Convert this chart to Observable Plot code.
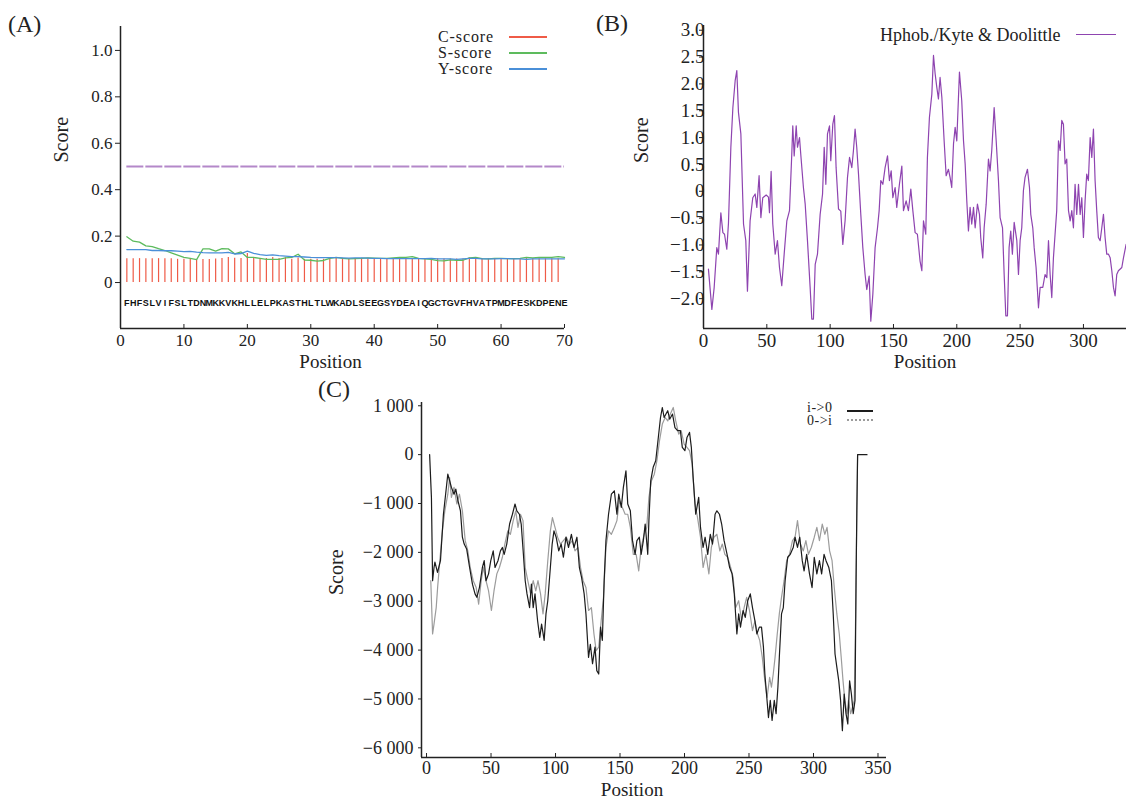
<!DOCTYPE html>
<html>
<head>
<meta charset="utf-8">
<script src="https://cdn.jsdelivr.net/npm/d3@7"></script>
<script src="https://cdn.jsdelivr.net/npm/@observablehq/plot@0.6"></script>
<style>
  body { margin: 0; background: #fff; }
  #fig { position: relative; width: 1126px; height: 803px; overflow: hidden; background: #fff;
         font-family: "Liberation Serif", "Times New Roman", serif; color: #222; }
  .panel { position: absolute; }
  #fig svg.panel { font-family: "Liberation Serif", "Times New Roman", serif; }
  .tag { position: absolute; font-size: 24px; line-height: 24px; white-space: nowrap; }
  .lg { position: absolute; white-space: nowrap; }
  .lgline { position: absolute; height: 0; }
</style>
</head>
<body>
<div id="fig"></div>
<script>
// ---------------- DATA ----------------
// Panel A : SignalP scores along the first 70 residues
const sequence = "FHFSLVIFSLTDNMKKVKHLLELPKASTHLTLWKADLSEEGSYDEAIQGCTGVFHVATPMDFESKDPENE";
const cScore = [0.103,0.103,0.103,0.103,0.103,0.103,0.103,0.103,
  0.100,0.100,0.099,0.097,0.099,0.099,0.101,
  0.104,0.108,0.105,0.104,0.125,
  0.107,0.104,0.104,0.108,0.104,0.107,0.100,0.106,0.100,0.100,
  0.100,0.100,0.103,0.108,0.104,0.102,0.102,0.104,0.102,0.104,
  0.102,0.102,0.102,0.100,0.102,0.102,0.102,0.102,0.102,0.102,
  0.101,0.101,0.101,0.101,0.106,0.104,0.102,0.102,0.102,0.103,
  0.103,0.102,0.100,0.103,0.102,0.102,0.102,0.102,0.102];
const sScore = [0.197,0.178,0.174,0.158,0.155,0.146,0.138,0.128,0.118,0.108,
  0.104,0.099,0.145,0.145,0.135,0.146,0.145,0.124,0.132,0.108,
  0.108,0.104,0.100,0.100,0.100,0.106,0.108,0.122,0.097,0.096,
  0.092,0.095,0.104,0.108,0.104,0.102,0.103,0.104,0.106,0.105,
  0.104,0.104,0.106,0.108,0.108,0.112,0.104,0.102,0.100,0.094,
  0.093,0.098,0.096,0.096,0.106,0.108,0.103,0.102,0.104,0.104,
  0.103,0.103,0.104,0.108,0.106,0.108,0.108,0.108,0.112,0.108];
const yScore = [0.142,0.142,0.142,0.142,0.138,0.138,0.137,0.137,0.135,0.133,
  0.134,0.131,0.129,0.128,0.128,0.128,0.130,0.123,0.125,0.135,
  0.126,0.120,0.117,0.119,0.116,0.114,0.112,0.112,0.110,0.108,
  0.107,0.107,0.107,0.107,0.106,0.105,0.106,0.106,0.105,0.104,
  0.104,0.103,0.103,0.103,0.103,0.103,0.103,0.103,0.104,0.102,
  0.102,0.102,0.100,0.102,0.104,0.104,0.102,0.102,0.102,0.103,
  0.103,0.102,0.102,0.100,0.102,0.102,0.102,0.102,0.102,0.102];
const cutoffA = 0.5;
const seriesA = ["C-score", "S-score", "Y-score"];
const xTicksA = [0, 10, 20, 30, 40, 50, 60, 70];
const yTicksA = [0, 0.2, 0.4, 0.6, 0.8, 1.0];

// Panel B : Kyte & Doolittle hydrophobicity  [position, score]
const hydropathy = [[3.9,-1.45],[6.6,-2.2],[8.4,-1.8],[10.5,-1.05],[11.8,-1.17],[13.7,-0.4],[15.3,-0.77],[16.6,-0.8],[18.4,-1.08],[19.7,-0.6],
  [21.6,0.82],[23.2,1.56],[25,2.06],[26.3,2.25],[27.6,1.47],[29.5,1.07],[31.6,-0.61],[33.4,-0.92],[34.7,-1.86],[36.8,-0.55],
  [38.9,-0.12],[40.8,-0.05],[42.1,-0.3],[43.9,0.29],[45.3,-0.49],[46.8,-0.12],[49.5,-0.07],[51.3,-0.11],[52.1,-0.4],[53.4,0.37],
  [54.7,-0.61],[56.6,-1.17],[58.4,-0.92],[60,-1.42],[61.8,-1.76],[63.7,-1.17],[65.8,-0.55],[67.9,-0.36],[69.7,0.69],[70.5,1.22],
  [71.6,0.66],[73.2,1.22],[74.2,0.82],[75.8,1.0],[76.8,0.69],[78.9,0.07],[80.3,-0.24],[82.1,-0.92],[84.2,-1.79],[85.5,-2.38],
  [86.8,-2.38],[88.2,-1.36],[90,-1.17],[92.1,-0.43],[94,-0.05],[95.3,0.82],[96.6,0.13],[97.9,1.07],[99.5,1.22],[100.5,0.57],
  [102.1,1.25],[103.4,1.41],[104.7,0.44],[106.6,-0.33],[108.4,-0.37],[110,-0.99],[111.8,-0.55],[113.7,0.26],[115.3,0.63],[117.1,0.44],
  [118.4,0.76],[119.7,1.16],[121,0.82],[122.4,0.32],[124.2,-0.43],[125.8,-1.05],[127.6,-1.55],[128.9,-1.83],[130.8,-1.58],[132.1,-2.42],
  [133.7,-1.92],[135.5,-1.05],[137.4,-0.68],[138.7,-0.36],[140,0.2],[141.6,0.13],[143.4,0.44],[145.3,0.66],[146.8,0.2],[148.2,0.38],
  [149.5,-0.12],[151.3,0.07],[152.6,-0.3],[154.7,0.13],[156.6,0.47],[157.9,-0.36],[160,-0.18],[161.8,-0.36],[163.7,0.04],[165.3,-0.36],
  [167.1,-0.77],[168.9,-0.8],[171,-1.3],[172.4,-1.48],[173.7,-0.55],[175.5,-0.8],[176.8,0.63],[178.4,1.38],[180.3,1.81],[181.6,2.53],
  [182.9,2.19],[184.2,1.94],[185.5,1.72],[186.8,2.12],[188.2,1.75],[190,0.94],[191.6,0.29],[193.4,0.41],[194.7,0.26],[196,0.07],
  [197.4,0.88],[198.7,1.19],[200,0.94],[202.1,2.22],[203.9,1.69],[205.3,0.94],[206.6,0.51],[207.9,-0.18],[209.2,-0.74],[210.5,-0.3],
  [211.8,-0.61],[213.2,-0.3],[214.5,-0.68],[216.3,-0.24],[217.9,-0.43],[218.9,-0.86],[220.5,-1.24],[221.6,-0.68],[223.2,-0.24],[225,0.6],
  [226.3,0.38],[227.6,0.76],[229.5,1.56],[231.1,0.94],[232.9,0.2],[234.2,-0.49],[236.1,-0.68],[237.4,-1.55],[238.7,-2.32],[240,-2.32],
  [241.3,-1.05],[242.6,-0.74],[243.9,-1.17],[245.3,-0.58],[247.4,-0.92],[248.7,-1.55],[250,-0.92],[251.3,-0.68],[252.6,0.01],[253.9,0.26],
  [255.8,0.41],[257.4,0.07],[258.4,-0.43],[260,-0.68],[261.1,-1.05],[262.6,-1.42],[264.5,-2.17],[265.8,-1.79],[267.9,-1.79],[269.7,-1.55],
  [271.1,-1.61],[272.4,-0.92],[273.7,-1.55],[275,-1.98],[276.3,-1.24],[277.6,-0.8],[278.9,-0.36],[280.3,0.94],[281.6,0.76],[282.9,1.32],
  [284.2,1.25],[285.5,0.51],[286.8,0.6],[288.2,-0.36],[289.5,-0.55],[290.8,-0.36],[292.1,-0.68],[293.4,0.13],[294.7,-0.43],[296.1,0.13],
  [297.4,-0.43],[298.7,-0.12],[300,-0.86],[301.3,-0.18],[302.6,0.32],[303.9,0.2],[305.3,1.0],[306.6,0.63],[307.9,1.16],[309.2,0.2],
  [310.5,-0.36],[311.8,-0.86],[313.2,-0.92],[314.5,-0.68],[315.8,-0.43],[317.1,-0.86],[318.4,-1.17],[319.7,-1.17],[321.1,-1.24],[322.4,-1.48],
  [323.7,-1.79],[325,-1.95],[326.3,-1.55],[327.6,-1.48],[330.3,-1.42],[331.6,-1.24],[333.7,-0.99]];
const seriesB = "Hphob./Kyte & Doolittle";
const xTicksB = [0, 50, 100, 150, 200, 250, 300];
const yTicksB = [-2.0, -1.5, -1.0, -0.5, 0, 0.5, 1.0, 1.5, 2.0, 2.5, 3.0];

// Panel C : TMpred  [position, score]
const insideToOutside = [[2.4,0],[3.8,-875],[4.7,-2580],[5.8,-2310],[6.5,-2200],[8.5,-2410],[10.8,-2170],[13.1,-1220],[15.1,-740],[16.5,-400],
  [17.9,-535],[19.3,-670],[21.3,-810],[22.7,-705],[24.4,-945],[26.3,-1150],[27.8,-1690],[29.2,-1830],[31.1,-1930],[33.4,-2310],
  [35.6,-2650],[37.6,-2850],[39,-2920],[41,-2720],[43.3,-2310],[44.7,-2170],[46.1,-2580],[48.1,-2440],[49.8,-2170],[51.7,-1970],
  [53.1,-2310],[55.4,-2170],[57.3,-1970],[58.8,-1900],[60.2,-2040],[62.2,-1830],[64.4,-1420],[66.6,-1220],[68.6,-1010],[70,-1150],
  [72,-1220],[73.4,-1420],[75.1,-2040],[76.5,-2580],[77.9,-2850],[79.9,-3130],[81.3,-2650],[82.7,-3130],[84.1,-2850],[86.1,-3400],
  [87.8,-3740],[89.2,-3470],[91.2,-3800],[92.6,-3260],[94,-2990],[96,-2310],[97.4,-1830],[98.8,-1560],[100.5,-1690],[102.5,-1970],
  [104.4,-1830],[106.1,-2100],[108.1,-1690],[110.1,-1900],[112.3,-1630],[114.3,-1900],[116.6,-1690],[118.5,-2310],[120.2,-2510],[122.2,-2850],
  [123.6,-3260],[125.6,-4150],[127,-3880],[128.7,-4280],[130.6,-3940],[132,-4420],[133.5,-4490],[134.9,-3530],[136.3,-3800],[137.7,-2580],
  [139.1,-1760],[141.1,-1220],[143.3,-810],[145.6,-740],[147.6,-1220],[149,-810],[151,-1080],[152.6,-670],[154.6,-330],[156,-1010],
  [158,-1150],[159.7,-1760],[161.7,-2040],[163.1,-1760],[165,-1690],[166.4,-2040],[168.1,-1760],[169.5,-1420],[171.5,-2040],[172.4,-1350],
  [173.8,-535],[175.7,-260],[177.7,-125],[179.4,280],[181.4,760],[182.8,965],[184.2,760],[185.6,830],[187,900],[188.5,725],
  [190.7,830],[192.6,555],[194.6,490],[196.8,490],[198.3,150],[200.3,80],[201.9,350],[203.9,455],[205.3,150],[206.7,-470],
  [208.7,-1220],[211,-875],[212.4,-1490],[214.4,-1900],[216,-1690],[218,-2040],[220,-1630],[221.7,-1830],[223.7,-1220],[225.1,-1150],
  [227.1,-1220],[228.8,-1420],[230.7,-1760],[233,-2040],[235,-2310],[236.9,-2440],[238.6,-2850],[240.6,-3670],[242,-3260],[243.4,-3530],
  [245.4,-3190],[247.1,-3330],[249,-2990],[251,-2850],[252.7,-3130],[254.6,-3400],[256.1,-3670],[258,-3530],[259.7,-3530],[261.2,-3940],
  [262.3,-4490],[264,-5030],[265.1,-5380],[266.5,-5030],[267.9,-5440],[269.6,-5030],[271,-5300],[272.4,-4760],[273.5,-4150],[275.2,-3260],
  [276.6,-3130],[278,-2580],[280,-2100],[282,-2040],[284.3,-1900],[285.7,-1690],[287.6,-1900],[289.3,-1690],[291.3,-2170],[292.7,-2380],
  [294.7,-2040],[296.9,-2440],[298.9,-2720],[300.6,-2100],[302.6,-2440],[304.6,-2170],[306.3,-2440],[308.2,-2040],[309.7,-2170],[311.9,-2310],
  [313.9,-2580],[315.3,-3260],[316.7,-4080],[318.1,-4350],[319.6,-4630],[321,-5030],[322.4,-5650],[323.8,-4900],[325.2,-5300],[326.6,-5510],
  [328,-4630],[329.4,-4900],[330.8,-5300],[332.2,-5030],[333,-2580],[333.6,-1150],[334.2,0],[341.5,0]];
const outsideToInside = [[3.3,-2580],[4.7,-3670],[5.8,-3470],[7.5,-3130],[8.6,-2720],[10.3,-2170],[12.3,-1560],[14.2,-1150],[16.5,-810],[17.9,-470],
  [19.3,-875],[21.3,-670],[23.5,-1010],[25.5,-810],[27.8,-1150],[30,-1760],[32,-1970],[33.9,-2310],[36.2,-2580],[38.5,-2720],
  [40.4,-3060],[42.4,-2580],[44.1,-2310],[46.1,-2580],[48.1,-2790],[50.3,-3190],[52.3,-2790],[54.5,-2440],[56.5,-2310],[58.8,-2100],
  [60.7,-1830],[63,-1560],[65,-1630],[67.2,-1350],[69.2,-1150],[70.9,-1490],[72.8,-1220],[74.8,-1350],[76.5,-2310],[78.5,-2580],
  [80.7,-2850],[82.7,-2580],[84.7,-2790],[86.4,-2580],[88.4,-2850],[90.3,-3260],[92,-2850],[94,-2170],[96,-1560],[97.6,-1290],
  [99.6,-1490],[101.6,-1690],[103.8,-1830],[106.1,-1760],[108.4,-1690],[110.9,-1830],[112.9,-1760],[115.1,-1970],[117.4,-1900],[119.4,-2310],
  [121.4,-2580],[123.6,-2720],[125.6,-3190],[127.8,-3130],[129.8,-3670],[131.5,-4010],[133.5,-3940],[135.4,-3400],[137.2,-2920],[139.1,-1900],
  [141.1,-1560],[143.3,-1630],[145.6,-1490],[147.6,-1350],[149.5,-945],[151.8,-1080],[154,-1220],[156,-1220],[158,-1490],[160.3,-2040],
  [162.5,-2040],[164.5,-2380],[166.4,-1900],[168.7,-1630],[170.7,-1490],[172.4,-875],[174.4,-535],[176.6,-400],[178.6,-125],[180.6,280],
  [182.8,625],[185,760],[187,690],[189,830],[191.3,965],[193.2,690],[195.5,420],[197.4,490],[199.7,215],[201.9,150],
  [203.9,80],[205.9,-190],[208.1,-1010],[210.1,-1290],[212.4,-1690],[214.4,-2310],[216.6,-2040],[218.9,-2440],[220.8,-1900],[222.8,-1690],
  [225.1,-1630],[227.4,-1970],[229.3,-1830],[231.3,-2040],[233.5,-2100],[235.8,-2310],[237.7,-2510],[239.7,-3130],[242,-2990],[244.3,-3400],
  [246.2,-3130],[248.2,-2920],[250.4,-3190],[252.7,-3600],[254.6,-3400],[256.6,-3670],[258.3,-3800],[260.3,-4150],[262.3,-4630],[264,-4970],
  [266,-4560],[267.4,-4760],[268.8,-4490],[270.2,-4150],[271.9,-3670],[273.5,-3260],[275.2,-2920],[277.2,-2580],[279.2,-2170],[281.4,-2040],
  [283.7,-1760],[285.7,-1690],[287.6,-1350],[289.9,-1830],[292.1,-1970],[294.1,-1760],[296.1,-2040],[298.3,-1900],[300.6,-1690],[302.6,-1490],
  [304.6,-1760],[306.8,-1420],[308.8,-1630],[310.5,-1490],[312.5,-1970],[314.4,-2170],[316.1,-2720],[318.1,-3260],[320,-3670],[321.5,-4150],
  [322.9,-4630],[324.3,-5030],[326,-5300],[327.1,-5030],[328.8,-5300],[330.2,-5170],[331.6,-5030],[332.7,-3260],[333.6,-1220],[334.2,0]];
const seriesC = ["i->0", "0->i"];
const xTicksC = [0, 50, 100, 150, 200, 250, 300, 350];
const yTicksC = [-6000, -5000, -4000, -3000, -2000, -1000, 0, 1000];

// ---------------- STYLE ----------------
const INK = "#222";
const SERIF = '"Liberation Serif", "Times New Roman", serif';
const colA = {"C-score": "#ef5b47", "S-score": "#5dbb5d", "Y-score": "#4a8fd8"};
const cutoffColor = "#b488c9";
const colB = "#8e44b0";
const colC = {"i->0": "#1c1c1c", "0->i": "#9c9c9c"};
const minus = s => s.replace("-", "\u2212");
const fmt1 = d => d === 0 ? "0" : minus(d.toFixed(1));
const fmtK = d => {
  if (d === 0) return "0";
  const a = Math.abs(d);
  return (d < 0 ? "\u2212" : "") + Math.floor(a / 1000) + " " + String(a % 1000).padStart(3, "0");
};

const fig = document.getElementById("fig");
function place(node, left, top, fontSize) {
  node.classList.add("panel");
  node.setAttribute("font-family", SERIF);
  node.setAttribute("font-size", fontSize);
  node.style.fontFamily = SERIF;
  node.style.fontSize = fontSize + "px";
  node.style.left = left + "px";
  node.style.top = top + "px";
  node.style.background = "transparent";
  node.style.overflow = "visible";
  // force the serif face on every axis / title text (the residue letters keep their sans face)
  node.querySelectorAll("text").forEach(t => {
    if (!t.closest('[font-weight="bold"]')) t.style.fontFamily = SERIF;
  });
  fig.appendChild(node);
}
function tag(text, left, top) {
  const d = document.createElement("div");
  d.className = "tag"; d.textContent = text;
  d.style.left = left + "px"; d.style.top = top + "px";
  fig.appendChild(d);
}
function legendRow(text, color, textLeft, cy, fontSize, rowH, spacing, lineLeft, lineWidth, lineY, thick, dashed) {
  const t = document.createElement("div");
  t.className = "lg"; t.textContent = text;
  t.style.left = textLeft + "px"; t.style.top = (cy - rowH / 2) + "px";
  t.style.fontSize = fontSize + "px"; t.style.lineHeight = rowH + "px"; t.style.height = rowH + "px";
  t.style.letterSpacing = spacing + "px";
  fig.appendChild(t);
  const l = document.createElement("div");
  l.className = "lgline";
  l.style.left = lineLeft + "px"; l.style.width = lineWidth + "px";
  l.style.top = (lineY - thick / 2) + "px";
  l.style.borderTop = `${thick}px ${dashed ? "dotted" : "solid"} ${color}`;
  fig.appendChild(l);
}

// ---------------- PANEL A ----------------
const xDomA = [0, 70], yDomA = [-0.198, 1.103];
const posA = Array.from(sequence, (_, i) => i + 1);
const barsA = cScore.map((v, i) => ({pos: posA[i], v}));
const linesA = [
  ...sScore.map((v, i) => ({pos: posA[i], v, s: "S-score"})),
  ...yScore.map((v, i) => ({pos: posA[i], v, s: "Y-score"}))
];
const hA = 380, mtA = 26, mbA = 52;
const plotA = Plot.plot({
  width: 580, height: hA, marginLeft: 120, marginRight: 16, marginTop: mtA, marginBottom: mbA,
  x: {domain: xDomA}, y: {domain: yDomA},
  marks: [
    Plot.ruleY([cutoffA], {x1: posA[0], x2: posA[posA.length - 1], stroke: cutoffColor, strokeWidth: 2, strokeDasharray: "17,2"}),
    Plot.ruleX(barsA, {x: "pos", y1: 0, y2: "v", stroke: colA["C-score"], strokeWidth: 1.2}),
    Plot.line(linesA, {x: "pos", y: "v", z: "s", stroke: d => colA[d.s], strokeWidth: 1.3}),
    Plot.text(Array.from(sequence), {x: (d, i) => posA[i], frameAnchor: "bottom", dy: -23, text: d => d,
      fontFamily: "Liberation Sans, Arial, sans-serif", fontWeight: "bold", fontSize: 9, fill: "#111"}),
    Plot.ruleX([xDomA[0]], {stroke: INK, strokeWidth: 1.5}),
    Plot.ruleY([yDomA[0]], {stroke: INK, strokeWidth: 1.5}),
    Plot.axisY(yTicksA, {tickSize: 5, tickPadding: 3, tickFormat: fmt1, label: null, fontSize: 17, fontFamily: SERIF}),
    Plot.axisX(xTicksA, {tickSize: 0, tickPadding: 5, label: null, fontSize: 17, fontFamily: SERIF}),
    Plot.tickX(xTicksA, {x: d => d, insetTop: hA - mtA - mbA - 4, stroke: INK}),
    Plot.text(["Score"], {frameAnchor: "left", rotate: -90, dx: -59, dy: -15, fontSize: 20, fontFamily: SERIF, text: d => d}),
    Plot.text(["Position"], {frameAnchor: "bottom", dx: -12, dy: 39, fontSize: 19, fontFamily: SERIF, text: d => d})
  ]
});
place(plotA, 0, 0, 17);
tag("(A)", 8, 12);
seriesA.forEach((s, i) => legendRow(s, colA[s], 438, [36.7, 53.3, 69.3][i], 16, 16, 0.9, 509, 38, [36.7, 53.3, 69.3][i], 2, false));

// ---------------- PANEL B ----------------
const xDomB = [0, 334], yDomB = [-2.556, 3.088];
const hB = 380, mtB = 25, mbB = 52;
const plotB = Plot.plot({
  width: 546, height: hB, marginLeft: 123, marginRight: 0, marginTop: mtB, marginBottom: mbB,
  x: {domain: xDomB}, y: {domain: yDomB},
  marks: [
    Plot.line(hydropathy, {x: d => d[0], y: d => d[1], stroke: colB, strokeWidth: 1.2}),
    Plot.ruleX([xDomB[0]], {stroke: INK, strokeWidth: 1.5}),
    Plot.ruleY([yDomB[0]], {stroke: INK, strokeWidth: 1.5}),
    Plot.axisY(yTicksB, {tickSize: 4, tickPadding: -5, tickFormat: fmt1, label: null, fontSize: 19, fontFamily: SERIF}),
    Plot.axisX(xTicksB, {tickSize: 0, tickPadding: 5, label: null, fontSize: 19, fontFamily: SERIF}),
    Plot.tickX(xTicksB, {x: d => d, insetTop: hB - mtB - mbB - 4, stroke: INK}),
    Plot.text(["Score"], {frameAnchor: "left", rotate: -90, dx: -62, dy: -14, fontSize: 20, fontFamily: SERIF, text: d => d}),
    Plot.text(["Position"], {frameAnchor: "bottom", dx: 10, dy: 39, fontSize: 19, fontFamily: SERIF, text: d => d})
  ]
});
place(plotB, 580, 0, 19);
tag("(B)", 596, 11);
legendRow(seriesB, colB, 880, 35, 18, 20, 0, 1076, 40, 35, 1.5, false);

// ---------------- PANEL C ----------------
const xDomC = [-3.9, 356.6], yDomC = [-6198, 1067];
const hC = 423, mtC = 22, mbC = 46;
const linesC = [
  ...outsideToInside.map(d => ({pos: d[0], v: d[1], s: "0->i"})),
  ...insideToOutside.map(d => ({pos: d[0], v: d[1], s: "i->0"}))
];
const plotC = Plot.plot({
  width: 580, height: hC, marginLeft: 101, marginRight: 14, marginTop: mtC, marginBottom: mbC,
  x: {domain: xDomC}, y: {domain: yDomC},
  marks: [
    Plot.line(linesC, {x: "pos", y: "v", z: "s", stroke: d => colC[d.s], strokeWidth: 1.2}),
    Plot.ruleX([xDomC[0]], {stroke: INK, strokeWidth: 1.5}),
    Plot.ruleY([yDomC[0]], {stroke: INK, strokeWidth: 1.5}),
    Plot.axisY(yTicksC, {tickSize: 3, tickPadding: 5, tickFormat: fmtK, label: null, fontSize: 18, fontFamily: SERIF}),
    Plot.axisX(xTicksC, {tickSize: 0, tickPadding: 4, label: null, fontSize: 18, fontFamily: SERIF}),
    Plot.tickX(xTicksC, {x: d => d, insetTop: hC - mtC - mbC - 4, stroke: INK}),
    Plot.text(["Score"], {frameAnchor: "left", rotate: -90, dx: -85, dy: 15, fontSize: 20, fontFamily: SERIF, text: d => d}),
    Plot.text(["Position"], {frameAnchor: "bottom", dx: -22, dy: 38, fontSize: 19, fontFamily: SERIF, text: d => d})
  ]
});
place(plotC, 320, 380, 18);
tag("(C)", 318, 377);
seriesC.forEach((s, i) => legendRow(s, colC[s], 807, [407, 420.5][i], 14, 13, 0.5, 847, 26, [410.7, 420][i], 2, i === 1));
</script>
</body>
</html>
